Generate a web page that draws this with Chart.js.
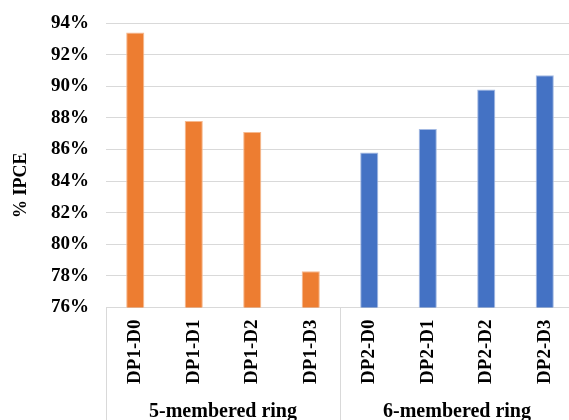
<!DOCTYPE html>
<html>
<head>
<meta charset="utf-8">
<script src="https://cdn.jsdelivr.net/npm/chart.js@4/dist/chart.umd.min.js"></script>
<style>
  html, body { margin: 0; padding: 0; background: #fff; overflow: hidden; width: 569px; height: 420px; }
  canvas { display: block; }
</style>
</head>
<body>
<canvas id="ipce" width="574" height="420"></canvas>
<script>
// Dye categories on the x axis
const categories = ['DP1-D0', 'DP1-D1', 'DP1-D2', 'DP1-D3', 'DP2-D0', 'DP2-D1', 'DP2-D2', 'DP2-D3'];
// Ring groups under the categories
const groups = ['5-membered ring', '6-membered ring'];
const groupSizes = [4, 4];
// %IPCE values per group (null where the dye belongs to the other group)
const fiveRing = [93.4, 87.8, 87.1, 78.3, null, null, null, null];
const sixRing  = [null, null, null, null, 85.8, 87.3, 89.8, 90.7];
// Value axis range and title
const yMin = 76, yMax = 94, yStep = 2;
const yTitle = '% IPCE';

const FONT = 'Liberation Serif, "Times New Roman", serif';
const GRID = '#d9d9d9';

// Draws the group separators, the ring-size labels and the value-axis title
const groupAxis = {
  id: 'groupAxis',
  afterDraw(chart) {
    const { ctx, chartArea, scales: { x } } = chart;
    ctx.save();
    ctx.strokeStyle = GRID;
    ctx.lineWidth = 1;
    let start = 0;
    const edges = [start - 0.5];
    groupSizes.forEach(n => { start += n; edges.push(start - 0.5); });
    edges.forEach(e => {
      const px = Math.round(x.getPixelForValue(e)) + 0.5;
      ctx.beginPath();
      ctx.moveTo(px, x.top);
      ctx.lineTo(px, chart.height);
      ctx.stroke();
    });
    ctx.fillStyle = '#000';
    ctx.font = 'bold 20px ' + FONT;
    ctx.textAlign = 'center';
    ctx.textBaseline = 'alphabetic';
    groups.forEach((g, i) => {
      const cx = (x.getPixelForValue(edges[i]) + x.getPixelForValue(edges[i + 1])) / 2;
      ctx.fillText(g, cx, x.bottom - 3);
    });

    // rotated axis title, sitting a little below the middle of the plot
    ctx.font = 'bold 18px ' + FONT;
    ctx.textBaseline = 'middle';
    ctx.translate(21, (chartArea.top + chartArea.bottom) / 2 + 20);
    ctx.rotate(-Math.PI / 2);
    ctx.fillText(yTitle, 0, 0);
    ctx.restore();
  }
};

new Chart(document.getElementById('ipce'), {
  type: 'bar',
  data: {
    labels: categories,
    datasets: [
      { label: groups[0], data: fiveRing, backgroundColor: '#ED7D31', borderColor: '#F6B98F', borderWidth: 1 },
      { label: groups[1], data: sixRing,  backgroundColor: '#4472C4', borderColor: '#A4BAE3', borderWidth: 1 }
    ]
  },
  options: {
    responsive: false,
    animation: false,
    devicePixelRatio: 1,
    layout: { padding: { top: 23, left: 0, right: 0, bottom: 0 } },
    datasets: { bar: { grouped: false, skipNull: true, categoryPercentage: 1, barPercentage: 0.31 } },
    plugins: { legend: { display: false }, tooltip: { enabled: false } },
    scales: {
      x: {
        grid: { display: false, drawTicks: false },
        border: { display: false },
        ticks: {
          color: '#000', minRotation: 90, maxRotation: 90, padding: 12, autoSkip: false,
          font: { family: FONT, size: 19, weight: 'bold' }
        },
        afterFit(scale) { scale.height = 112.5; scale.paddingLeft = 0; scale.paddingRight = 0; }
      },
      y: {
        min: yMin, max: yMax,
        grid: { color: GRID, lineWidth: 1, drawTicks: false },
        border: { display: false },
        ticks: {
          stepSize: yStep, color: '#000', padding: 17,
          font: { family: FONT, size: 19, weight: 'bold' },
          callback: v => v + '%'
        },
        afterFit(scale) { scale.width = 106; scale.paddingTop = 0; scale.paddingBottom = 0; }
      }
    }
  },
  plugins: [groupAxis]
});
</script>
</body>
</html>
